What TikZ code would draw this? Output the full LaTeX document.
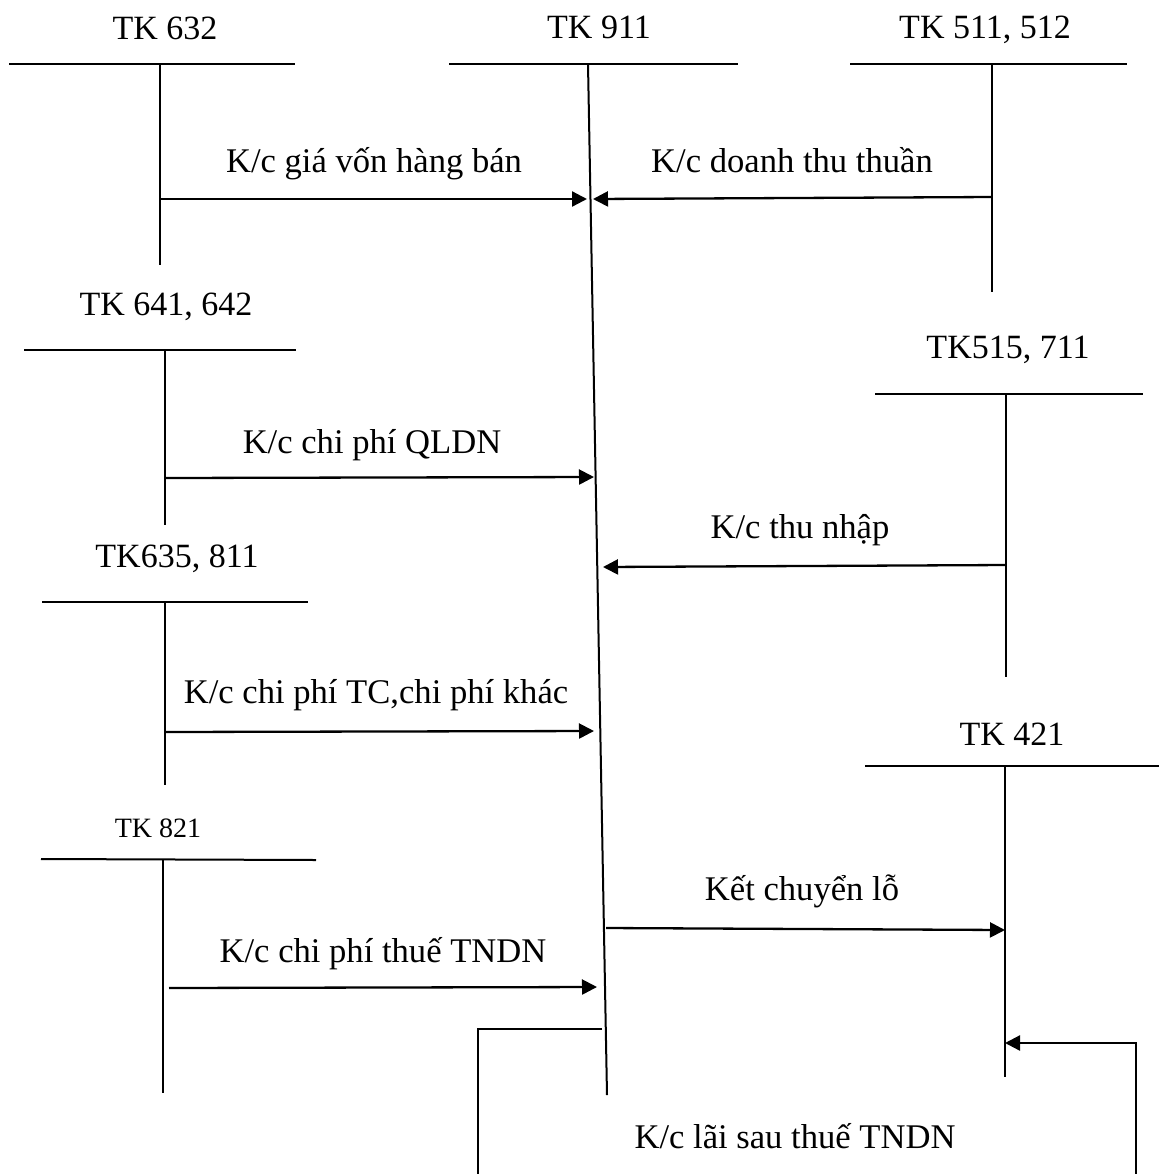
\documentclass[tikz,border=0pt]{standalone}
\usepackage{fontspec}
\setmainfont{Liberation Serif}
\usetikzlibrary{arrows.meta, positioning, calc}
\definecolor{InkBlack}{HTML}{000000}

\tikzset{
  tkrule/.style={draw=InkBlack, line width=1pt},
  kcflow/.style={draw=InkBlack, line width=1.15pt,
                 -{Triangle[length=7.5pt, width=7.5pt]}},
  tkname/.style={anchor=base, inner sep=0pt, text=InkBlack,
                 font=\fontsize{17}{20}\selectfont},
  tksmall/.style={tkname, font=\fontsize{14}{16}\selectfont},
  kcnote/.style={anchor=base, inner sep=0pt, text=InkBlack,
                 font=\fontsize{17.3}{20}\selectfont}
}

\begin{document}
\begin{tikzpicture}[x=0.5pt, y=-0.5pt]
  \useasboundingbox (0,0) rectangle (1159,1174);

  % T-account names
  \node[tkname]  (n632) at (165,39)   {TK 632};
  \node[tkname]  (n911) at (599,38)   {TK 911};
  \node[tkname]  (n511) at (985,38)   {TK 511, 512};
  \node[tkname]  (n641) at (166,315)  {TK 641, 642};
  \node[tkname]  (n515) at (1008,358) {TK515, 711};
  \node[tkname]  (n635) at (177,567)  {TK635, 811};
  \node[tkname]  (n421) at (1012,745) {TK 421};
  \node[tksmall] (n821) at (158,837)  {TK 821};

  % rules and stems
  \coordinate (r632a) at (9,64);    \coordinate (r632b) at (295,64);
  \coordinate (s632a) at (160,64);  \coordinate (s632b) at (160,265);
  \coordinate (r911a) at (449,64);  \coordinate (r911b) at (738,64);
  \coordinate (s911a) at (588,64);  \coordinate (s911b) at (607,1095);
  \coordinate (r511a) at (850,64);  \coordinate (r511b) at (1127,64);
  \coordinate (s511a) at (992,64);  \coordinate (s511b) at (992,292);
  \coordinate (r641a) at (24,350);  \coordinate (r641b) at (296,350);
  \coordinate (s641a) at (165,350); \coordinate (s641b) at (165,525);
  \coordinate (r515a) at (875,394); \coordinate (r515b) at (1143,394);
  \coordinate (s515a) at (1006,394);\coordinate (s515b) at (1006,677);
  \coordinate (r635a) at (42,602);  \coordinate (r635b) at (308,602);
  \coordinate (s635a) at (165,602); \coordinate (s635b) at (165,785);
  \coordinate (r421a) at (865,766); \coordinate (r421b) at (1159,766);
  \coordinate (s421a) at (1005,766);\coordinate (s421b) at (1005,1077);
  \coordinate (r821a) at (41,859);  \coordinate (r821b) at (316,860);
  \coordinate (s821a) at (163,859); \coordinate (s821b) at (163,1093);

  \foreach \tk in {632,911,511,641,515,635,421,821}{
    \draw[tkrule] (r\tk a) -- (r\tk b);
    \draw[tkrule] (s\tk a) -- (s\tk b);
  }

  % transfers into TK 911
  \coordinate (f632) at (160,199); \coordinate (t632) at (587,199);
  \coordinate (f511) at (992,197); \coordinate (t511) at (593,199);
  \coordinate (f641) at (165,478); \coordinate (t641) at (594,477);
  \coordinate (f515) at (1006,565);\coordinate (t515) at (603,567);
  \coordinate (f635) at (165,732); \coordinate (t635) at (594,731);
  \coordinate (f821) at (169,988); \coordinate (t821) at (597,987);
  \coordinate (f911) at (606,928); \coordinate (t421) at (1005,930);

  \draw[kcflow] (f632) -- (t632);
  \draw[kcflow] (f511) -- (t511);
  \draw[kcflow] (f641) -- (t641);
  \draw[kcflow] (f515) -- (t515);
  \draw[kcflow] (f635) -- (t635);
  \draw[kcflow] (f821) -- (t821);
  \draw[kcflow] (f911) -- (t421);

  \node[kcnote] (k632) at (374,172) {K/c giá vốn hàng bán};
  \node[kcnote] (k511) at (792,172) {K/c doanh thu thuần};
  \node[kcnote] (k641) at (372,453) {K/c chi phí QLDN};
  \node[kcnote] (k515) at (800,538) {K/c thu nhập};
  \node[kcnote] (k635) at (376,703) {K/c chi phí TC,chi phí khác};
  \node[kcnote] (k421) at (802,900) {Kết chuyển lỗ};
  \node[kcnote] (k821) at (383,962) {K/c chi phí thuế TNDN};

  % profit after tax, routed below
  \coordinate (p911) at (602,1029);
  \coordinate (pl1) at (478,1029); \coordinate (pl2) at (478,1174);
  \coordinate (pr2) at (1136,1174);\coordinate (pr1) at (1136,1043);
  \coordinate (p421) at (1005,1043);
  \draw[tkrule] (p911) -- (pl1) -- (pl2);
  \draw[kcflow] (pr2) -- (pr1) -- (p421);
  \node[kcnote] (klai) at (795,1148) {K/c lãi sau thuế TNDN};
\end{tikzpicture}
\end{document}
